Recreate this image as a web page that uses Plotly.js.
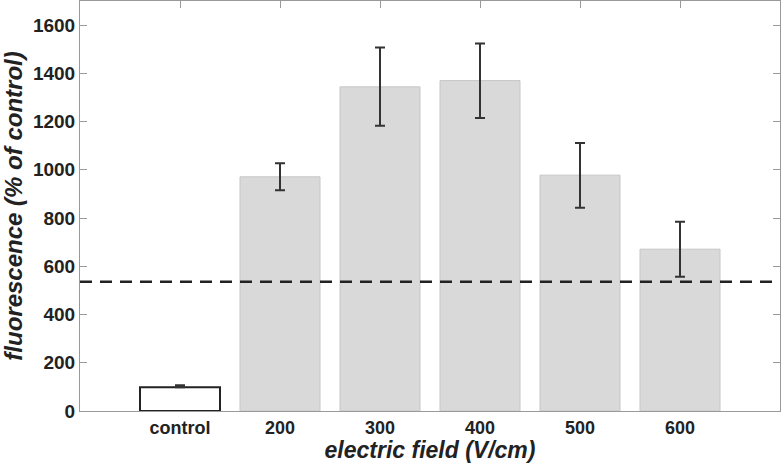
<!DOCTYPE html>
<html>
<head>
<meta charset="utf-8">
<script src="https://cdn.plot.ly/plotly-3.0.1.min.js"></script>
<style>html,body{margin:0;padding:0;background:#fff;}#chart{width:782px;height:463px;}</style>
</head>
<body>
<div id="chart"></div>
<script>
const categories = ["control", "200", "300", "400", "500", "600"];
const values = [98, 971, 1344, 1370, 978, 671];
const errPlus = [9, 56, 163, 154, 133, 114];
const errMinus = [0, 56, 161, 155, 135, 114];
const threshold = 536;

const fillColors = categories.map((c, i) => i === 0 ? "#ffffff" : "#d9d9d9");
const lineColors = categories.map((c, i) => i === 0 ? "#222222" : "#c6c6c6");
const lineWidths = categories.map((c, i) => i === 0 ? 2 : 1);

const fontFam = "Liberation Sans, Arial, Helvetica, sans-serif";

const trace = {
  type: "bar",
  x: categories,
  y: values,
  width: 0.8,
  marker: { color: fillColors, line: { color: lineColors, width: lineWidths } },
  error_y: { type: "data", symmetric: false, array: errPlus, arrayminus: errMinus,
             color: "#333333", thickness: 2, width: 5 },
  hoverinfo: "x+y"
};

const layout = {
  width: 782, height: 463,
  margin: { l: 80, r: 2, t: 1, b: 52 },
  paper_bgcolor: "#ffffff", plot_bgcolor: "#ffffff",
  showlegend: false,
  font: { family: fontFam, color: "#222222" },
  xaxis: {
    type: "category", range: [-1, 6],
    showline: true, linecolor: "#9a9a9a", linewidth: 1, mirror: "ticks",
    ticks: "inside", ticklen: 7, tickcolor: "#9a9a9a",
    layer: "below traces",
    showgrid: false, zeroline: false,
    tickfont: { size: 18, weight: "bold", color: "#222222" },
    title: { text: "electric field (V/cm)", standoff: 2,
             font: { size: 23, weight: "bold", style: "italic", color: "#222222" } },
    automargin: false
  },
  yaxis: {
    range: [0, 1700], dtick: 200, tick0: 0,
    showline: true, linecolor: "#9a9a9a", linewidth: 1, mirror: "ticks",
    ticks: "inside", ticklen: 7, tickcolor: "#9a9a9a",
    showgrid: false, zeroline: false,
    tickfont: { size: 19, weight: "bold", color: "#222222" },
    title: { text: "fluorescence (% of control)", standoff: 4,
             font: { size: 24, weight: "bold", style: "italic", color: "#222222" } },
    automargin: false
  },
  shapes: [{
    type: "line", xref: "paper", yref: "y", x0: 0, x1: 1, y0: threshold, y1: threshold,
    line: { color: "#222222", width: 2.5, dash: "12px,8px" }
  }],
  bargap: 0.2
};

Plotly.newPlot("chart", [trace], layout, { displayModeBar: false, staticPlot: true });
</script>
</body>
</html>
